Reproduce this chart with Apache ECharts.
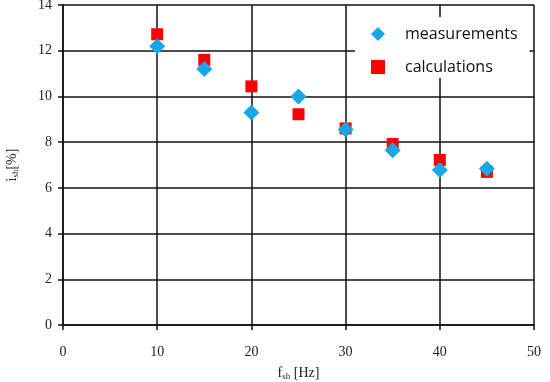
<!DOCTYPE html>
<html>
<head>
<meta charset="utf-8">
<script src="https://cdn.jsdelivr.net/npm/echarts@6/dist/echarts.min.js"></script>
<style>html,body{margin:0;padding:0;background:#fff}#c{width:550px;height:382px}</style>
</head>
<body>
<div id="c"></div>
<script>
var freqs = [10, 15, 20, 25, 30, 35, 40, 45];
var measurements = [12.2, 11.2, 9.3, 10.0, 8.55, 7.65, 6.78, 6.84];
var calculations = [12.72, 11.6, 10.44, 9.22, 8.6, 7.92, 7.22, 6.7];
var xTicks = [0, 10, 20, 30, 40, 50];
var yTicks = [0, 2, 4, 6, 8, 10, 12, 14];

function pairs(xs, ys) { return xs.map(function (x, i) { return [x, ys[i]]; }); }

var chart = echarts.init(document.getElementById('c'));
var lineStyle = { color: '#111', width: 1.5 };
var serif = 'Liberation Serif';
chart.setOption({
  animation: false,
  backgroundColor: '#fff',
  grid: { left: 63, right: 16, top: 5, bottom: 57, containLabel: false, outerBoundsMode: 'none' },
  legend: {
    orient: 'vertical',
    left: 355, top: 17,
    padding: [9, 12, 3, 16],
    backgroundColor: '#fff',
    itemWidth: 14, itemHeight: 14, itemGap: 17,
    data: [
      { name: 'measurements', icon: 'diamond' },
      { name: 'calculations', icon: 'rect' }
    ],
    textStyle: { fontFamily: 'Open Sans', fontSize: 16, color: '#111', padding: [0, 0, 0, 15] }
  },
  xAxis: {
    type: 'value', min: xTicks[0], max: xTicks[xTicks.length - 1], interval: 10,
    name: '{a|f}{s|sh}{a| [Hz]}', nameLocation: 'middle', nameGap: 41,
    nameTextStyle: { rich: {
      a: { fontFamily: serif, fontSize: 14, color: '#222' },
      s: { fontFamily: serif, fontSize: 9, color: '#222', padding: [6, 0, 0, 0] }
    } },
    axisLine: { show: true, onZero: false, lineStyle: lineStyle },
    axisTick: { show: true, inside: false, length: 5, lineStyle: lineStyle },
    splitLine: { show: true, lineStyle: lineStyle },
    axisLabel: { fontFamily: serif, fontSize: 14, color: '#222', margin: 20 }
  },
  yAxis: {
    type: 'value', min: yTicks[0], max: yTicks[yTicks.length - 1], interval: 2,
    name: '{a|i}{s|sh}{a|[%]}', nameLocation: 'middle', nameGap: 43, nameRotate: 90,
    nameTextStyle: { rich: {
      a: { fontFamily: serif, fontSize: 14, color: '#222' },
      s: { fontFamily: serif, fontSize: 9, color: '#222', padding: [6, 0, 0, 0] }
    } },
    axisLine: { show: true, onZero: false, lineStyle: lineStyle },
    axisTick: { show: true, inside: false, length: 5, lineStyle: lineStyle },
    splitLine: { show: true, lineStyle: lineStyle },
    axisLabel: { fontFamily: serif, fontSize: 14, color: '#222', margin: 11 }
  },
  series: [
    {
      name: 'calculations', type: 'scatter', symbol: 'rect', symbolSize: 12, z: 2,
      itemStyle: { color: '#f00', opacity: 1 },
      data: pairs(freqs, calculations)
    },
    {
      name: 'measurements', type: 'scatter', symbol: 'diamond', symbolSize: 16, z: 3,
      itemStyle: { color: '#17a7e5', opacity: 1 },
      data: pairs(freqs, measurements)
    }
  ]
});
</script>
</body>
</html>
